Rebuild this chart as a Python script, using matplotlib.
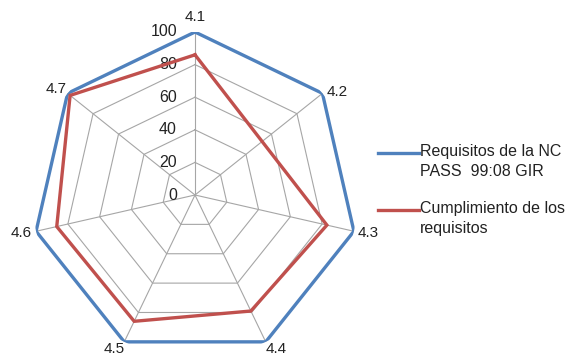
import numpy as np
import matplotlib
matplotlib.use('Agg')
import matplotlib.pyplot as plt
from matplotlib.lines import Line2D

plt.rcParams['font.family'] = ['Liberation Sans', 'DejaVu Sans']

categories = ['4.1', '4.2', '4.3', '4.4', '4.5', '4.6', '4.7']
requisitos = [100, 100, 100, 100, 100, 100, 100]
# 4.2 has no value in the source, the line is drawn straight across it
cumplimiento = [86, np.nan, 83, 79, 86, 87, 98]
rings = [0, 20, 40, 60, 80, 100]

label_req = 'Requisitos de la NC\nPASS  99:08 GIR'
label_cum = 'Cumplimiento de los\nrequisitos'

blue = '#4F81BD'
red = '#C0504D'
txt = '#222222'

n = len(categories)
angles = np.arange(n) * 2 * np.pi / n

fig = plt.figure(figsize=(5.75, 3.6), dpi=100)
ax = fig.add_axes([32 / 575, 2 / 360, 326 / 575, 326 / 360], projection='polar')
ax.set_theta_zero_location('N')
ax.set_theta_direction(-1)
ax.set_ylim(0, 100)
ax.grid(False)
ax.spines['polar'].set_visible(False)
ax.set_xticks([])
ax.set_yticks([])
ax.patch.set_alpha(0)

# web: heptagon rings and spokes
closed = np.append(angles, angles[0])
for r in rings[1:]:
    ax.plot(closed, [r] * (n + 1), color='#A6A6A6', lw=0.8, zorder=1)
for a in angles:
    ax.plot([a, a], [0, 100], color='#A6A6A6', lw=0.8, zorder=1)

# ring labels left of the first spoke
for r in rings:
    ax.annotate(str(r), xy=(0, r), xytext=(-13, 0), textcoords='offset points',
                ha='right', va='center', fontsize=11.5, color=txt)

# category labels (offsets in points, ha, va)
lab_pos = [((0, 6), 'center', 'bottom'),
           ((3, 1), 'left', 'center'),
           ((3, -1), 'left', 'center'),
           ((0, 0), 'left', 'top'),
           ((0, 0), 'right', 'top'),
           ((-3, -1), 'right', 'center'),
           ((-1, 3), 'right', 'center')]
for a, c, (off, ha, va) in zip(angles, categories, lab_pos):
    ax.annotate(c, xy=(a, 100), xytext=off, textcoords='offset points',
                ha=ha, va=va, fontsize=11, color=txt)

# series
ax.plot(closed, requisitos + requisitos[:1], color=blue, lw=2.4, zorder=3,
        solid_joinstyle='miter')
cum = np.array(cumplimiento + cumplimiento[:1], dtype=float)
ok = ~np.isnan(cum)
ax.plot(closed[ok], cum[ok], color=red, lw=2.4, zorder=4,
        solid_joinstyle='miter')

# legend, handle level with the first text line as in the source
for yy, col, lab in [(153, blue, label_req), (210, red, label_cum)]:
    y = 1 - yy / 360
    fig.add_artist(Line2D([378 / 575, 419 / 575], [y, y], color=col, lw=2.4,
                          transform=fig.transFigure))
    fig.text(420 / 575, 1 - (yy - 9) / 360, lab, ha='left', va='top',
             fontsize=11.5, color=txt, linespacing=1.45)

fig.savefig('out.png', dpi=100)
